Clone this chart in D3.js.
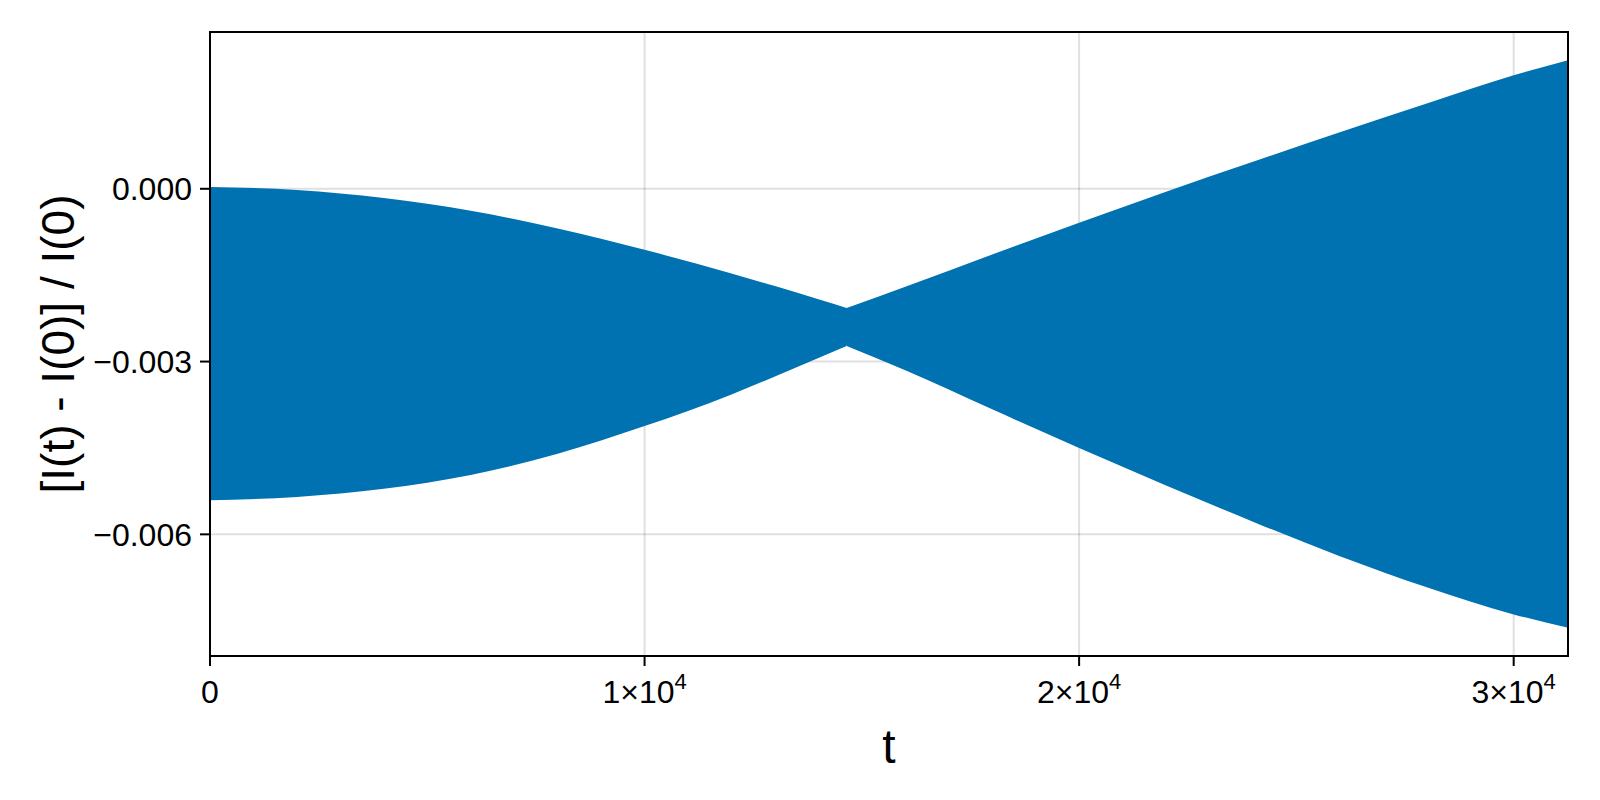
<!DOCTYPE html>
<html>
<head>
<meta charset="utf-8">
<script src="https://cdn.jsdelivr.net/npm/d3@7"></script>
<style>
  html, body { margin: 0; padding: 0; background: #ffffff; }
  svg { display: block; }
  text { font-family: "Liberation Sans", Arial, Helvetica, sans-serif; fill: #000; }
</style>
</head>
<body>
<svg id="chart" width="1600" height="800"></svg>
<script>
// Envelope of the rapidly oscillating relative error
const tValues = [0, 2000, 4000, 6000, 8000, 10000, 12000, 13000, 14000, 14650,
                 16000, 18000, 20000, 22000, 24000, 26000, 28000, 30000, 31250];
const upperValues = [0.00003, -0.00002, -0.00016, -0.00038, -0.00069, -0.00106, -0.00147, -0.00169, -0.00192, -0.00207,
                     -0.00170, -0.00114, -0.00059, -0.00005, 0.00047, 0.00098, 0.00148, 0.00197, 0.00223];
const lowerValues = [-0.00541, -0.00535, -0.00521, -0.00497, -0.00460, -0.00412, -0.00357, -0.00326, -0.00294, -0.00273,
                     -0.00315, -0.00383, -0.00450, -0.00515, -0.00578, -0.00638, -0.00692, -0.00739, -0.00762];
const crossingT = 14650;

const xTicks = [0, 10000, 20000, 30000];
const xTickMantissa = ["0", "1×10", "2×10", "3×10"];
const xTickExponent = ["", "4", "4", "4"];
const yTicks = [0, -0.003, -0.006];
const yTickLabels = ["0.000", "−0.003", "−0.006"];
const xLabel = "t";
const yLabel = "[I(t) - I(0)] / I(0)";

(function () {
const svg = d3.select("#chart");
const pL = 210, pR = 1568, pT = 32, pB = 656;

const x = d3.scaleLinear().domain([0, d3.max(tValues)]).range([pL, pR]);
const yMin = d3.min(lowerValues), yMax = d3.max(upperValues);
const pad = (yMax - yMin) * 0.05;
const y = d3.scaleLinear().domain([yMin - pad, yMax + pad]).range([pB, pT]);

// grid
const grid = svg.append("g");
grid.selectAll("line.gx").data(xTicks.filter(d => d > 0)).join("line")
  .attr("class", "gx")
  .attr("x1", d => x(d)).attr("x2", d => x(d))
  .attr("y1", pT).attr("y2", pB)
  .attr("stroke", "rgba(0,0,0,0.12)").attr("stroke-width", 2);
grid.selectAll("line.gy").data(yTicks).join("line")
  .attr("class", "gy")
  .attr("y1", d => y(d)).attr("y2", d => y(d))
  .attr("x1", pL).attr("x2", pR)
  .attr("stroke", "rgba(0,0,0,0.12)").attr("stroke-width", 2);

// band (two monotone pieces joined at the narrow waist)
const pts = tValues.map((t, i) => ({ t, hi: upperValues[i], lo: lowerValues[i] }));
const leftPts = pts.filter(p => p.t <= crossingT);
const rightPts = pts.filter(p => p.t >= crossingT);
const area = d3.area()
  .x(d => x(d.t)).y0(d => y(d.lo)).y1(d => y(d.hi))
  .curve(d3.curveMonotoneX);
svg.append("clipPath").attr("id", "clip").append("rect")
  .attr("x", pL).attr("y", pT).attr("width", pR - pL).attr("height", pB - pT);
svg.append("path")
  .attr("d", area(leftPts) + area(rightPts))
  .attr("fill", "#0072b2")
  .attr("clip-path", "url(#clip)");

// frame
svg.append("rect")
  .attr("x", pL).attr("y", pT).attr("width", pR - pL).attr("height", pB - pT)
  .attr("fill", "none").attr("stroke", "#000").attr("stroke-width", 2);

// x ticks
const xt = svg.append("g");
xt.selectAll("line").data(xTicks).join("line")
  .attr("x1", d => x(d)).attr("x2", d => x(d))
  .attr("y1", pB).attr("y2", pB + 10)
  .attr("stroke", "#000").attr("stroke-width", 2);
const xl = xt.selectAll("text").data(xTicks).join("text")
  .attr("x", d => x(d)).attr("y", pB + 47)
  .attr("text-anchor", "middle")
  .style("font-size", "32px");
xl.append("tspan").text((d, i) => xTickMantissa[i]);
xl.append("tspan").attr("dy", -14).style("font-size", "22px").text((d, i) => xTickExponent[i]);

// y ticks
const yt = svg.append("g");
yt.selectAll("line").data(yTicks).join("line")
  .attr("x1", pL - 10).attr("x2", pL)
  .attr("y1", d => y(d)).attr("y2", d => y(d))
  .attr("stroke", "#000").attr("stroke-width", 2);
yt.selectAll("text").data(yTicks).join("text")
  .attr("x", pL - 18).attr("y", d => y(d))
  .attr("dy", "0.36em")
  .attr("text-anchor", "end")
  .style("font-size", "32px")
  .text((d, i) => yTickLabels[i]);

// axis labels
svg.append("text")
  .attr("x", (pL + pR) / 2).attr("y", 763)
  .attr("text-anchor", "middle")
  .style("font-size", "48px")
  .text(xLabel);
svg.append("text")
  .attr("transform", `translate(74, ${(pT + pB) / 2}) rotate(-90)`)
  .attr("text-anchor", "middle")
  .style("font-size", "46px")
  .text(yLabel);
})();
</script>
</body>
</html>
